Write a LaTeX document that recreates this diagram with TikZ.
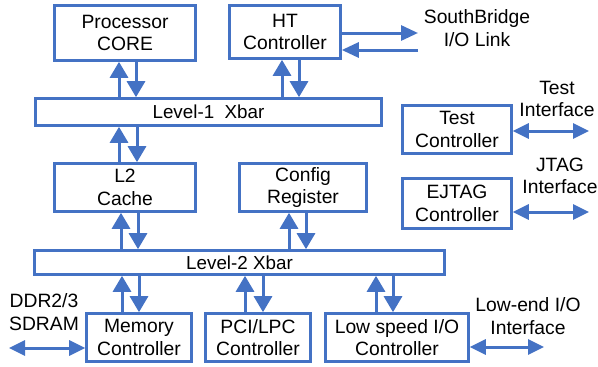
\documentclass[tikz,border=0pt]{standalone}
\usepackage{fontspec}
\setmainfont{Liberation Sans}
\usetikzlibrary{arrows.meta}
\definecolor{linkblue}{HTML}{4472C4}
\tikzset{
  blk/.style={draw=linkblue, line width=2.6pt, fill=white, inner sep=0pt,
    align=center, font=\fontsize{19.3}{22.5}\selectfont},
  bar/.style={blk, font=\fontsize{18.8}{20}\selectfont},
  lbl/.style={align=center, inner sep=0pt, font=\fontsize{19.3}{22.5}\selectfont},
  arr/.style={draw=linkblue, line width=3pt, -{Triangle[width=18pt,length=16pt]}},
  harr/.style={draw=linkblue, line width=3pt, -{Triangle[width=15pt,length=17pt]}},
  biarr/.style={draw=linkblue, line width=3pt,
    {Triangle[width=15pt,length=16pt]}-{Triangle[width=15pt,length=16pt]}}
}
\begin{document}
\begin{tikzpicture}[x=1pt, y=-1pt]
\useasboundingbox (0,0) rectangle (598,367);

% core side blocks
\node[blk, minimum width=141pt, minimum height=55pt] (cpu) at (125,33) {Processor\\CORE};
\node[blk, minimum width=111pt, minimum height=53pt] (ht) at (285,32) {HT\\Controller};
\node[bar, minimum width=346pt, minimum height=27pt] (xb1) at (208.5,112) {Level-1\ \ Xbar};
\node[blk, minimum width=141pt, minimum height=48pt] (l2) at (125,187.5) {L2\\Cache};
\node[blk, minimum width=127pt, minimum height=48pt] (cfg) at (303,187.5) {Config\\Register};
\node[bar, minimum width=410pt, minimum height=24pt] (xb2) at (239.5,262.5) {Level-2 Xbar};
\node[blk, minimum width=105pt, minimum height=48pt] (mem) at (139,337.5) {Memory\\Controller};
\node[blk, minimum width=105pt, minimum height=48pt] (pci) at (258,337.5) {PCI/LPC\\Controller};
\node[blk, minimum width=143pt, minimum height=48pt] (lsio) at (397,337.5) {Low speed I/O\\Controller};

% debug blocks
\node[blk, minimum width=109pt, minimum height=48pt] (test) at (457,129.5) {Test\\Controller};
\node[blk, minimum width=109pt, minimum height=50pt] (ejtag) at (457,203.5) {EJTAG\\Controller};

% external interface labels
\node[lbl] (sbl) at (477,28) {SouthBridge\\I/O Link};
\node[lbl] (tif) at (557,99) {Test\\Interface};
\node[lbl] (jif) at (560,176) {JTAG\\Interface};
\node[lbl] (ddr) at (44,312) {DDR2/3\\SDRAM};
\node[lbl] (lei) at (528,316) {Low-end I/O\\Interface};

\coordinate (sbout) at (418,33);
\coordinate (sbin) at (418,50);
\coordinate (tend) at (589,131);
\coordinate (jend) at (589,212);
\coordinate (dend) at (9,348);
\coordinate (lend) at (544,347);

% processor <-> level-1
\draw[arr] (119,0 |- xb1.north) -- (119,0 |- cpu.south);
\draw[arr] (136,0 |- cpu.south) -- (136,0 |- xb1.north);
% HT <-> level-1
\draw[arr] (282,0 |- xb1.north) -- (282,0 |- ht.south);
\draw[arr] (299,0 |- ht.south) -- (299,0 |- xb1.north);
% level-1 <-> L2
\draw[arr] (119,0 |- l2.north) -- (119,0 |- xb1.south);
\draw[arr] (137,0 |- xb1.south) -- (137,0 |- l2.north);
% L2 <-> level-2
\draw[arr] (121,0 |- xb2.north) -- (121,0 |- l2.south);
\draw[arr] (138,0 |- l2.south) -- (138,0 |- xb2.north);
% config <-> level-2
\draw[arr] (289,0 |- xb2.north) -- (289,0 |- cfg.south);
\draw[arr] (306,0 |- cfg.south) -- (306,0 |- xb2.north);
% level-2 <-> peripherals
\draw[arr] (122,0 |- mem.north) -- (122,0 |- xb2.south);
\draw[arr] (139,0 |- xb2.south) -- (139,0 |- mem.north);
\draw[arr] (245,0 |- pci.north) -- (245,0 |- xb2.south);
\draw[arr] (263,0 |- xb2.south) -- (263,0 |- pci.north);
\draw[arr] (376,0 |- lsio.north) -- (376,0 |- xb2.south);
\draw[arr] (393,0 |- xb2.south) -- (393,0 |- lsio.north);

% southbridge link
\draw[harr] (ht.east |- sbout) -- (sbout);
\draw[harr] (sbin) -- (ht.east |- sbin);

% external interfaces
\draw[biarr] (test.east |- tend) -- (tend);
\draw[biarr] (ejtag.east |- jend) -- (jend);
\draw[biarr] (dend) -- (mem.west |- dend);
\draw[biarr] (lsio.east |- lend) -- (lend);
\end{tikzpicture}
\end{document}
